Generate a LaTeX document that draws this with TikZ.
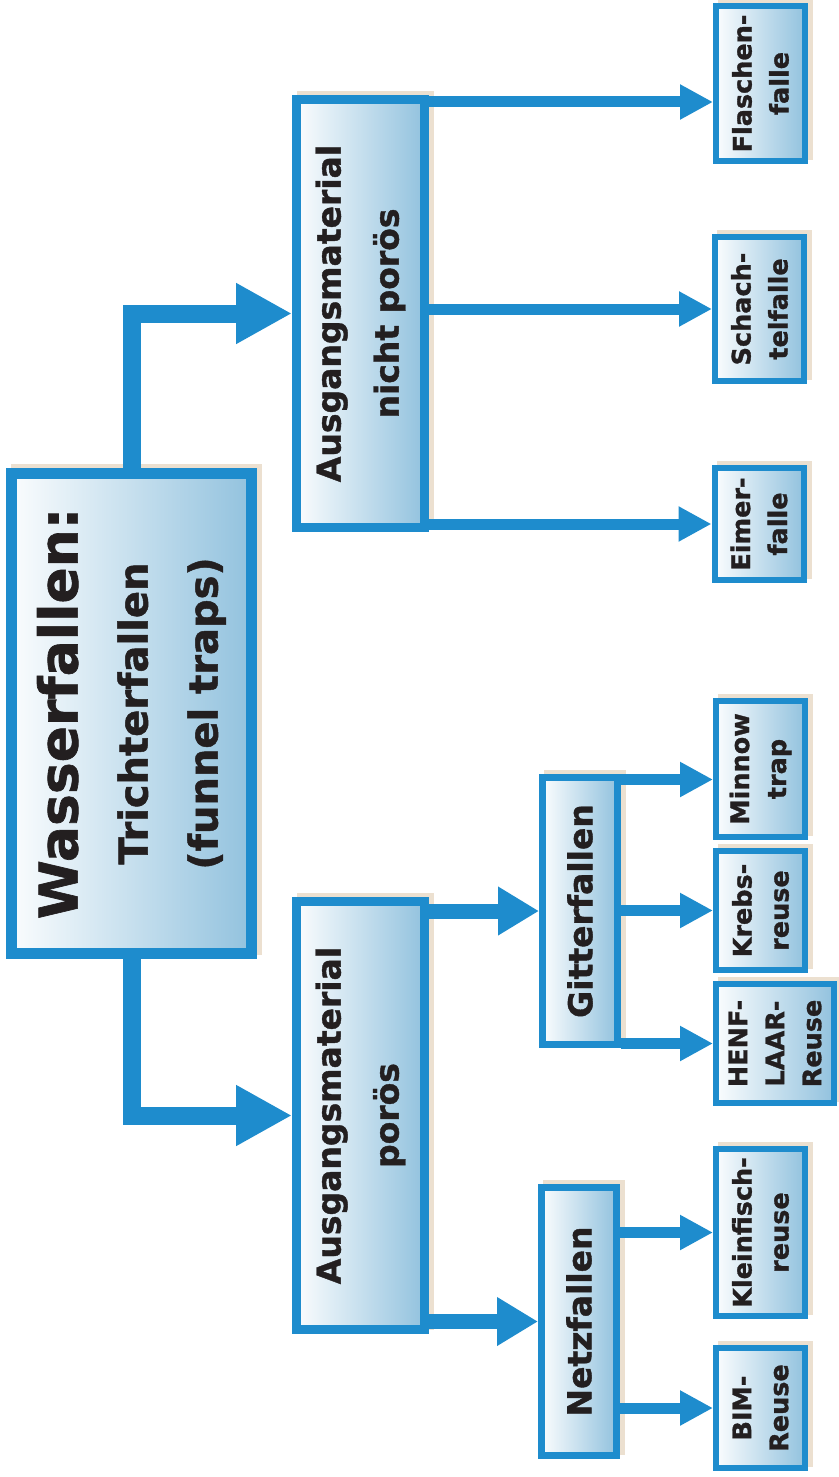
\documentclass[tikz,border=0pt]{standalone}
\usepackage{fontspec}
\setmainfont{DejaVu Sans}[BoldFeatures={FakeBold=1.2}]
\usetikzlibrary{arrows.meta}
\definecolor{trapblue}{RGB}{30,140,205}
\definecolor{trapfill}{RGB}{146,194,222}
\definecolor{trapshadow}{RGB}{236,224,208}
\definecolor{traptext}{RGB}{35,31,32}
\tikzset{
    trapbox/.style={rotate=90, draw=trapblue, align=center, text=traptext,
        left color=white!96!trapfill, right color=trapfill,
        preaction={fill=trapshadow, draw=trapshadow, transform canvas={xshift=5pt, yshift=4pt}}},
    rootbox/.style={trapbox, line width=11pt, minimum width=480pt, minimum height=240pt,
        font=\bfseries\fontsize{40}{70}\selectfont},
    matbox/.style={trapbox, line width=9pt, minimum width=428pt, minimum height=128pt,
        font=\bfseries\fontsize{33}{58}\selectfont},
    kindbox/.style={trapbox, line width=7pt, minimum height=75pt,
        font=\bfseries\fontsize{33}{40}\selectfont},
    leafbox/.style={trapbox, line width=6pt, minimum height=89pt,
        font=\bfseries\fontsize{25.5}{37}\selectfont},
    bigarrow/.style={draw=trapblue, line width=18pt, -{Triangle[length=56pt, width=57pt]}},
    midarrow/.style={draw=trapblue, line width=15pt, -{Triangle[length=41pt, width=46pt]}},
    leafarrow/.style={draw=trapblue, line width=11pt, -{Triangle[length=33pt, width=33pt]}}
}

\begin{document}
\begin{tikzpicture}[x=1pt, y=-1pt]
        \useasboundingbox (0,0) rectangle (838,1477);
        % root and the two materials
        \node (root) [rootbox] at (131.5, 713.5) {{\fontsize{53.5}{60}\selectfont Wasserfallen:}\\Trichterfallen\\(funnel traps)};
        \node (nicht) [matbox] at (360.5, 313.5) {Ausgangsmaterial\\nicht porös};
        \node (poros) [matbox] at (360.5, 1115.5) {Ausgangsmaterial\\porös};
        \node (gitter) [kindbox, minimum width=267pt] at (580, 911) {Gitterfallen};
        \node (netz) [kindbox, minimum width=268pt] at (579, 1321.5) {Netzfallen};
        % leaves
        \node (flasche) [leafbox, minimum width=155pt] at (760.5, 83.5) {Flaschen-\\falle};
        \node (schachtel) [leafbox, minimum width=144pt] at (759.5, 309) {Schach-\\telfalle};
        \node (eimer) [leafbox, minimum width=112pt] at (759, 524) {Eimer-\\falle};
        \node (minnow) [leafbox, minimum width=136pt] at (760.5, 769) {Minnow\\trap};
        \node (krebs) [leafbox, minimum width=119pt] at (760.5, 910.5) {Krebs-\\reuse};
        \node (henf) [leafbox, minimum width=119pt, minimum height=118pt] at (775, 1043.5) {HENF-\\LAAR-\\Reuse};
        \node (kleinfisch) [leafbox, minimum width=167pt] at (760.5, 1232.5) {Kleinfisch-\\reuse};
        \node (bim) [leafbox, minimum width=120pt] at (760.5, 1408) {BIM-\\Reuse};
        % arrow ends off the box middle
        \coordinate (flascheIn) at ([yshift=-18.5pt]flasche.north);
        \coordinate (minnowIn) at ([yshift=-10.5pt]minnow.north);
        % connectors
        \draw [bigarrow] (root.east) |- (nicht.north);
        \draw [bigarrow] (root.west) |- (poros.north);
        \draw [midarrow] (poros.south |- gitter.north) -- (gitter.north);
        \draw [midarrow] (poros.south |- netz.north) -- (netz.north);
        \draw [leafarrow] (nicht.south |- flascheIn) -- (flascheIn);
        \draw [leafarrow] (nicht.south |- schachtel.north) -- (schachtel.north);
        \draw [leafarrow] (nicht.south |- eimer.north) -- (eimer.north);
        \draw [leafarrow] (gitter.south |- minnowIn) -- (minnowIn);
        \draw [leafarrow] (gitter.south |- krebs.north) -- (krebs.north);
        \draw [leafarrow] (gitter.south |- henf.north) -- (henf.north);
        \draw [leafarrow] (netz.south |- kleinfisch.north) -- (kleinfisch.north);
        \draw [leafarrow] (netz.south |- bim.north) -- (bim.north);
\end{tikzpicture}
\end{document}
